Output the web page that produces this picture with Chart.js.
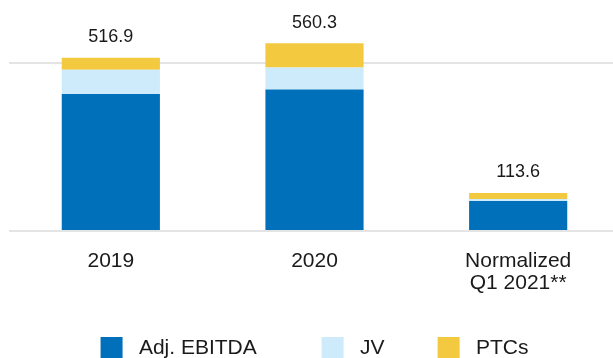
<!DOCTYPE html>
<html>
<head>
<meta charset="utf-8">
<script src="https://cdn.jsdelivr.net/npm/chart.js@4.4.1/dist/chart.umd.min.js"></script>
<style>
  html, body { margin: 0; padding: 0; background: #fff; overflow: hidden; }
  #wrap { position: relative; width: 620px; height: 369px; }
</style>
</head>
<body>
<div id="wrap"><canvas id="ebitda-chart"></canvas></div>
<script>
const categories = ['2019', '2020', ['Normalized', 'Q1 2021**']];
const adjEbitda = [409.2, 422.3, 89.6];
const jv = [71.8, 66.0, 6.0];
const ptcs = [35.9, 72.0, 18.0];
const seriesNames = ['Adj. EBITDA', 'JV', 'PTCs'];
const gridValues = [0, 500];
// trailing spaces widen the legend items so they sit like the original
const legendTail = ['       ', '     ', ''];

Chart.defaults.font.family = "'Liberation Sans', Arial, sans-serif";
Chart.defaults.color = '#1a1a1a';

const totalsPlugin = {
    id: 'totals',
    afterDatasetsDraw(chart) {
        const ctx = chart.ctx;
        const x = chart.scales.x;
        const y = chart.scales.y;
        ctx.save();
        ctx.font = "18px 'Liberation Sans', Arial, sans-serif";
        ctx.fillStyle = '#1a1a1a';
        ctx.textAlign = 'center';
        ctx.textBaseline = 'middle';
        categories.forEach((c, i) => {
            let sum = 0;
            chart.data.datasets.forEach(ds => { sum += ds.data[i]; });
            ctx.fillText(sum.toFixed(1), x.getPixelForValue(i), y.getPixelForValue(sum) - 20.5);
        });
        ctx.restore();
    }
};

const ctx = document.getElementById('ebitda-chart');

const myChart = new Chart(ctx, {
    type: 'bar',
    data: {
        labels: categories,
        datasets: [{
            label: seriesNames[0],
            data: adjEbitda,
            backgroundColor: '#0070ba'
        }, {
            label: seriesNames[1],
            data: jv,
            backgroundColor: '#cdebfb'
        }, {
            label: seriesNames[2],
            data: ptcs,
            backgroundColor: '#f2c93f'
        }]
    },
    options: {
        responsive: true,
        maintainAspectRatio: false,
        animation: false,
        layout: {
            padding: { top: 30, left: 9, right: 0, bottom: 0 }
        },
        datasets: {
            bar: {
                barPercentage: 0.482,
                categoryPercentage: 1,
                borderWidth: 0
            }
        },
        scales: {
            x: {
                stacked: true,
                grid: { display: false, drawTicks: false },
                border: { display: false },
                ticks: {
                    autoSkip: false,
                    maxRotation: 0,
                    padding: 18.5,
                    color: '#1a1a1a',
                    font: { size: 21, lineHeight: '22.5px' }
                }
            },
            y: {
                stacked: true,
                min: 0,
                max: 600,
                ticks: { display: false },
                grid: { color: '#e4e4e4', lineWidth: 2, drawTicks: false },
                border: { display: false },
                afterBuildTicks: axis => {
                    axis.ticks = gridValues.map(v => ({ value: v }));
                }
            }
        },
        plugins: {
            legend: {
                position: 'bottom',
                labels: {
                    boxWidth: 22,
                    boxHeight: 22,
                    padding: 24,
                    color: '#1a1a1a',
                    font: { size: 21 },
                    generateLabels: chart => {
                        const items = Chart.defaults.plugins.legend.labels.generateLabels(chart);
                        items.forEach((it, i) => {
                            it.text = ' ' + it.text + legendTail[i];
                            it.lineWidth = 0;
                        });
                        return items;
                    }
                }
            },
            tooltip: { enabled: false }
        }
    },
    plugins: [totalsPlugin]
});
</script>
</body>
</html>
